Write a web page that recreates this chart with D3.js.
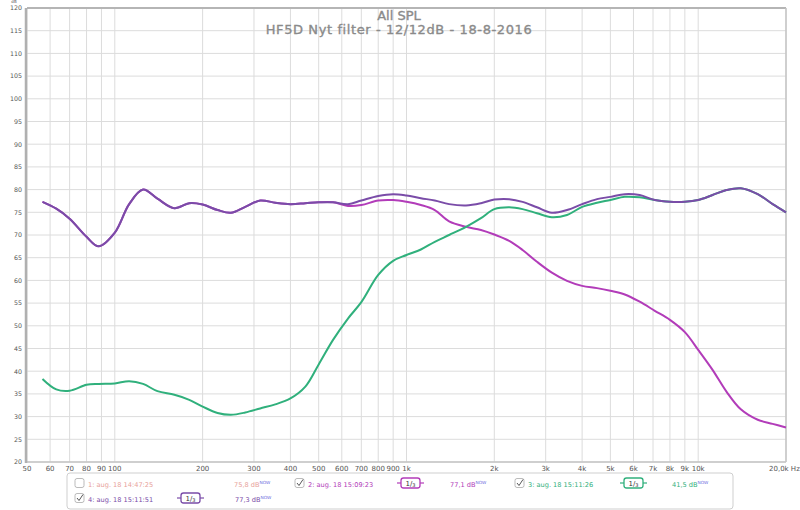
<!DOCTYPE html>
<html>
<head>
<meta charset="utf-8">
<script src="https://cdn.jsdelivr.net/npm/d3@7"></script>
<style>
    body { margin: 0; background: #fff; }
    svg { display: block; font-family: "DejaVu Sans", sans-serif; }
    .grid line { stroke: #dcdcdc; stroke-width: 1; }
    .tick-label { fill: #555; font-size: 7px; }
    .line { fill: none; stroke-width: 2; }
</style>
</head>
<body>
<div id="my_dataviz"></div>
<script>
// frequency points (Hz)
var freqs = [56.5, 63, 70, 80, 88, 100, 112, 125, 140, 160, 180, 200, 225, 250, 280, 315, 355, 400, 450, 500,
    560, 630, 700, 800, 900, 1000, 1120, 1250, 1400, 1600, 1800, 2000, 2250, 2500, 2800, 3150, 3550, 4000, 4500,
    5000, 5600, 6300, 7100, 8000, 9000, 10000, 11200, 12500, 14000, 16000, 18000, 20000];

// 2: aug. 18 15:09:23 (magenta)
var spl2 = [77.3, 75.8, 73.6, 69.6, 67.5, 70.5, 76.8, 80.0, 78.0, 75.9, 77.0, 76.7, 75.5, 74.9, 76.2, 77.6, 77.1, 76.8, 77.0, 77.2,
    77.2, 76.4, 76.6, 77.6, 77.7, 77.3, 76.6, 75.5, 73.0, 71.8, 71.1, 70.1, 68.7, 66.7, 64.1, 61.7, 59.9, 58.8, 58.3,
    57.7, 56.9, 55.3, 53.3, 51.3, 48.6, 44.7, 40.3, 35.5, 31.6, 29.3, 28.4, 27.6];

// 3: aug. 18 15:11:26 (green)
var spl3 = [38.3, 36.0, 35.7, 37.0, 37.2, 37.3, 37.8, 37.2, 35.6, 34.8, 33.7, 32.2, 30.8, 30.4, 30.9, 31.8, 32.7, 34.0, 36.6, 41.5,
    46.9, 51.6, 55.2, 61.2, 64.3, 65.6, 66.8, 68.5, 70.0, 71.8, 73.7, 75.7, 76.1, 75.7, 74.8, 73.9, 74.4, 76.2, 77.1,
    77.7, 78.4, 78.3, 77.7, 77.3, 77.3, 77.7, 78.8, 79.9, 80.3, 79.0, 76.8, 75.0];

// 4: aug. 18 15:11:51 (purple)
var spl4 = [77.3, 75.8, 73.6, 69.6, 67.5, 70.5, 76.8, 80.0, 78.0, 75.9, 77.0, 76.7, 75.5, 74.9, 76.2, 77.6, 77.1, 76.8, 77.0, 77.2,
    77.2, 76.8, 77.6, 78.6, 79.0, 78.7, 78.1, 77.6, 76.8, 76.5, 77.0, 77.8, 77.9, 77.3, 76.1, 74.9, 75.5, 76.8, 77.9,
    78.4, 79.0, 78.8, 77.7, 77.3, 77.3, 77.7, 78.8, 79.9, 80.3, 79.0, 76.8, 75.0];

var xTicks = [50, 60, 70, 80, 90, 100, 200, 300, 400, 500, 600, 700, 800, 900,
    1000, 2000, 3000, 4000, 5000, 6000, 7000, 8000, 9000, 10000, 20000];
var xTickLabels = ["50", "60", "70", "80", "90", "100", "200", "300", "400", "500", "600", "700", "800", "900",
    "1k", "2k", "3k", "4k", "5k", "6k", "7k", "8k", "9k", "10k", "20,0k Hz"];
var yTicks = d3.range(20, 121, 5);

var titleLines = ["All SPL", "HF5D Nyt filter - 12/12dB - 18-8-2016"];

var legendNames = ["1: aug. 18 14:47:25", "2: aug. 18 15:09:23", "3: aug. 18 15:11:26", "4: aug. 18 15:11:51"];
var legendLevels = ["75,8 dB", "77,1 dB", "41,5 dB", "77,3 dB"];
var legendChecked = [false, true, true, true];
var legendSmoothing = [false, true, true, true];
var seriesColors = ["#e8a29a", "#b23cb9", "#30b07c", "#7a4ca8"];

function drawChart() {
    var W = 800, H = 510;
    var plot = { left: 27, right: 786, top: 8, bottom: 462 };

    var svg = d3.select("#my_dataviz").append("svg")
        .attr("width", W)
        .attr("height", H);

    var x = d3.scaleLog().domain([50, 20000]).range([plot.left, plot.right]);
    var y = d3.scaleLinear().domain([20, 120]).range([plot.bottom, plot.top]);

    // grid
    var grid = svg.append("g").attr("class", "grid");
    grid.selectAll("line.v")
        .data(xTicks)
        .enter().append("line")
        .attr("x1", function(d) { return x(d); })
        .attr("x2", function(d) { return x(d); })
        .attr("y1", plot.top)
        .attr("y2", plot.bottom);
    grid.selectAll("line.h")
        .data(yTicks)
        .enter().append("line")
        .attr("x1", plot.left)
        .attr("x2", plot.right)
        .attr("y1", function(d) { return y(d); })
        .attr("y2", function(d) { return y(d); });

    // frame
    svg.append("line").attr("x1", plot.left).attr("x2", plot.right).attr("y1", plot.top).attr("y2", plot.top)
        .attr("stroke", "#b5b5b5").attr("stroke-width", 2);
    svg.append("line").attr("x1", plot.left).attr("x2", plot.right).attr("y1", plot.bottom).attr("y2", plot.bottom)
        .attr("stroke", "#c4c4c4").attr("stroke-width", 1.5);
    svg.append("line").attr("x1", plot.right).attr("x2", plot.right).attr("y1", plot.top).attr("y2", plot.bottom)
        .attr("stroke", "#c4c4c4").attr("stroke-width", 1.5);
    svg.append("line").attr("x1", plot.left - 1).attr("x2", plot.left - 1).attr("y1", plot.top).attr("y2", plot.bottom + 1)
        .attr("stroke", "#b0b0b0").attr("stroke-width", 2.5);

    // y labels
    svg.selectAll("text.ylab")
        .data(yTicks)
        .enter().append("text")
        .attr("class", "tick-label")
        .attr("x", 22)
        .attr("y", function(d) { return y(d) + 2.3; })
        .attr("text-anchor", "end")
        .style("font-size", "6.3px")
        .text(function(d) { return d; });
    svg.append("text").attr("class", "tick-label")
        .attr("x", 14).attr("y", 3.2).attr("text-anchor", "middle")
        .style("font-size", "4px").text("dB");

    // x labels
    svg.selectAll("text.xlab")
        .data(xTicks)
        .enter().append("text")
        .attr("class", "tick-label")
        .attr("x", function(d, i) { return i == xTicks.length - 1 ? x(d) - 17 : x(d); })
        .attr("y", 470.5)
        .attr("text-anchor", function(d, i) { return i == xTicks.length - 1 ? "start" : "middle"; })
        .text(function(d, i) { return xTickLabels[i]; });

    // title
    svg.selectAll("text.title")
        .data(titleLines)
        .enter().append("text")
        .attr("x", 399)
        .attr("y", function(d, i) { return 20 + i * 13.5; })
        .attr("text-anchor", "middle")
        .attr("fill", "#8a8a8a")
        .attr("stroke", "#8a8a8a")
        .attr("stroke-width", 0.35)
        .style("font-size", "13px")
        .style("letter-spacing", function(d, i) { return i == 0 ? "0px" : "0.6px"; })
        .text(function(d) { return d; });

    // curves
    var series = [
        { values: spl2, color: seriesColors[1] },
        { values: spl3, color: seriesColors[2] },
        { values: spl4, color: seriesColors[3] }
    ];
    var valueline = d3.line()
        .x(function(d) { return x(d[0]); })
        .y(function(d) { return y(d[1]); })
        .curve(d3.curveCatmullRom.alpha(0.5));
    series.forEach(function(s) {
        var pts = freqs.map(function(f, i) { return [f, s.values[i]]; });
        svg.append("path")
            .data([pts])
            .attr("class", "line")
            .style("stroke", s.color)
            .attr("d", valueline);
    });

    drawLegend(svg);
}

function drawLegend(svg) {
    var box = { x: 67, y: 473, w: 666, h: 36 };
    svg.append("rect")
        .attr("x", box.x).attr("y", box.y).attr("width", box.w).attr("height", box.h)
        .attr("rx", 3)
        .attr("fill", "#fff")
        .attr("stroke", "#cfcfcf");

    // item positions: [checkbox x, row baseline, badge x, level x]
    var pos = [[75, 486.5, null, 234], [295, 486.5, 399, 450], [515, 486.5, 622, 672], [75, 501.5, 179, 235]];

    pos.forEach(function(p, i) {
        var g = svg.append("g");
        var col = seriesColors[i];
        g.append("rect")
            .attr("x", p[0]).attr("y", p[1] - 8).attr("width", 9).attr("height", 9)
            .attr("rx", 2).attr("fill", "#fff").attr("stroke", "#aaa").attr("stroke-width", 0.8);
        if (legendChecked[i]) {
            g.append("path")
                .attr("d", "M" + (p[0] + 2) + "," + (p[1] - 3.5) + " l2,2.5 l4,-6")
                .attr("fill", "none").attr("stroke", "#444").attr("stroke-width", 0.9);
        }
        g.append("text")
            .attr("x", p[0] + 13).attr("y", p[1])
            .attr("fill", col).style("font-size", "6.6px")
            .text(legendNames[i]);

        if (legendSmoothing[i]) {
            var bx = p[2], by = p[1] - 8.5;
            g.append("line").attr("x1", bx - 2).attr("x2", bx + 25).attr("y1", by + 5).attr("y2", by + 5)
                .attr("stroke", col).attr("stroke-width", 1.2);
            g.append("rect")
                .attr("x", bx + 2).attr("y", by).attr("width", 19).attr("height", 10)
                .attr("rx", 2.5).attr("fill", "#fff").attr("stroke", col).attr("stroke-width", 1.3);
            var t = g.append("text")
                .attr("x", bx + 11.5).attr("y", by + 7.5).attr("text-anchor", "middle")
                .attr("fill", "#333").style("font-size", "7px");
            t.append("tspan").text("1/");
            t.append("tspan").attr("dy", 1.5).style("font-size", "5px").text("3");
        }

        var lv = g.append("text")
            .attr("x", p[3]).attr("y", p[1])
            .attr("fill", col).style("font-size", "6.6px");
        lv.append("tspan").text(legendLevels[i]);
        lv.append("tspan").attr("dy", -2.5).attr("fill", "#7070e0").style("font-size", "4.3px").text("NOW");
    });
}

drawChart();
</script>
</body>
</html>
